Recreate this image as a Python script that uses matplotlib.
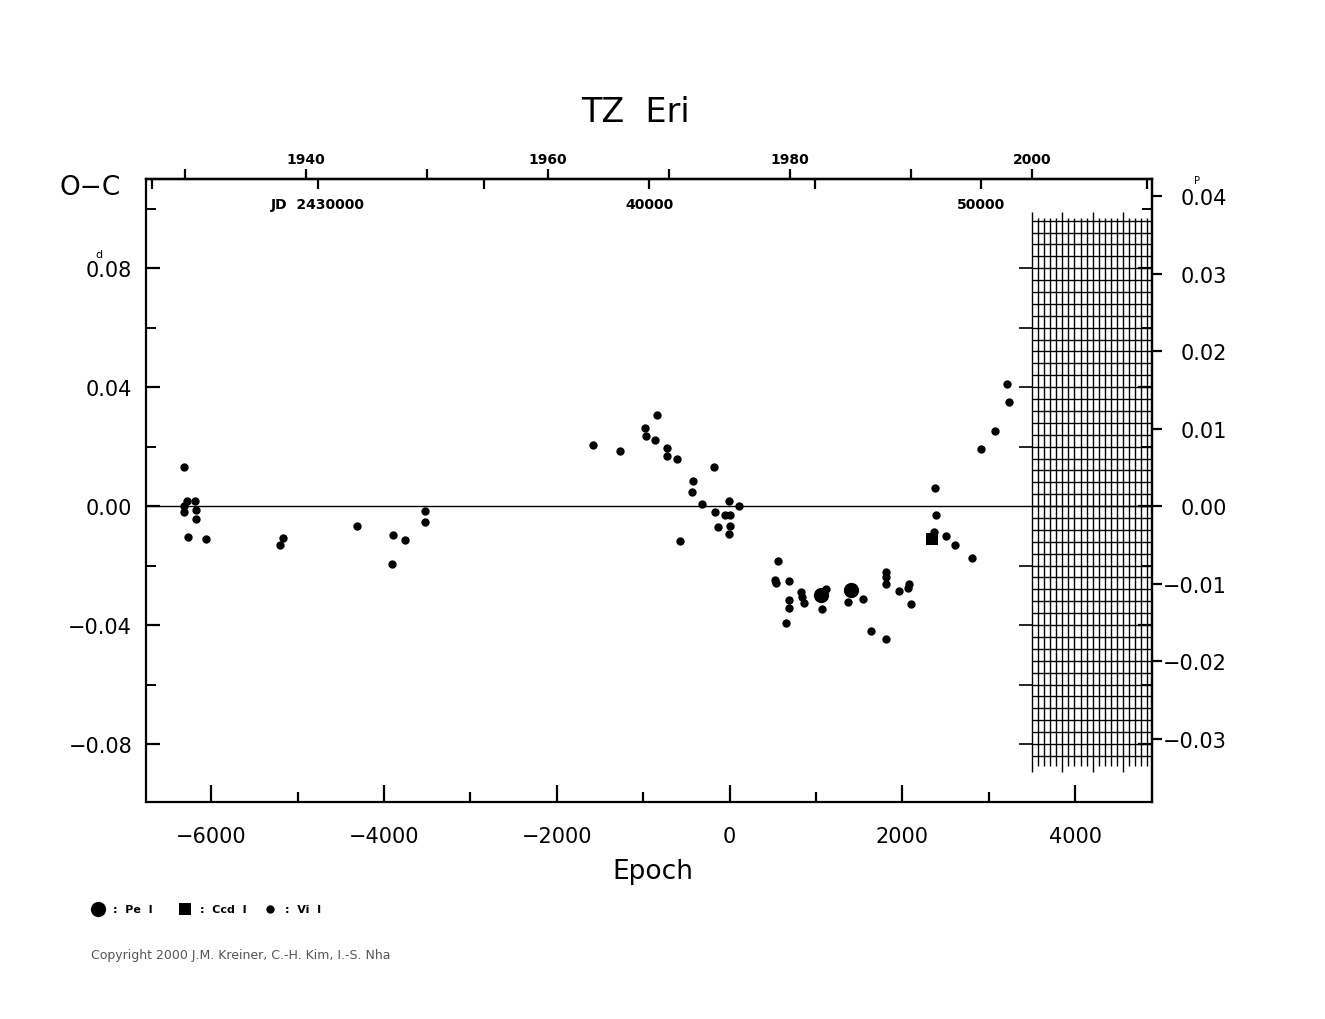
import numpy as np
import matplotlib
matplotlib.use('Agg')
import matplotlib.pyplot as plt
from matplotlib.lines import Line2D
from matplotlib.ticker import FixedLocator, FuncFormatter, NullFormatter

# ---------------- data ----------------
vi_epoch = [-6316, -6276, -6188, -6316, -6316, -6177, -6177, -6265, -6061,
            -5205, -5166, -4314, -3897, -3912, -3758, -3530, -3530,
            -1585, -1270, -837, -984, -973, -865, -725, -725, -610, -181,
            -421, -431, -321, -170, -128, -50, 0, -3, 113, 3, -3, -575,
            564, 524, 536, 687, 687, 687, 652, 825, 833, 856, 1117, 1071,
            1369, 1540, 1635, 1809, 1814, 1814, 1814, 1956, 2068, 2075, 2099,
            2373, 2385, 2365, 2503, 2608, 2801, 2905, 3067, 3206, 3233]
vi_oc = [0.0130, 0.0018, 0.0016, 0.0001, -0.0019, -0.0013, -0.0044, -0.0105, -0.0111,
         -0.0131, -0.0107, -0.0068, -0.0097, -0.0195, -0.0114, -0.0016, -0.0055,
         0.0207, 0.0186, 0.0307, 0.0261, 0.0236, 0.0222, 0.0197, 0.0167, 0.0158, 0.0130,
         0.0085, 0.0048, 0.0007, -0.0019, -0.0070, -0.0030, -0.0029, 0.0017, -0.0001, -0.0066, -0.0094, -0.0117,
         -0.0186, -0.0249, -0.0260, -0.0251, -0.0315, -0.0341, -0.0394, -0.0288, -0.0304, -0.0326, -0.0279, -0.0347,
         -0.0324, -0.0313, -0.0419, -0.0447, -0.0221, -0.0240, -0.0262, -0.0285, -0.0277, -0.0262, -0.0329,
         0.0062, -0.0030, -0.0088, -0.0102, -0.0130, -0.0174, 0.0192, 0.0251, 0.0410, 0.0351]
pe_epoch = [1062, 1406]
pe_oc = [-0.0299, -0.0282]
ccd_epoch = [2338]
ccd_oc = [-0.0109]

period = 2.606
jd0 = 2442418.0

epoch_major = [-6000, -4000, -2000, 0, 2000, 4000]
epoch_minor = [-5000, -3000, -1000, 1000, 3000]
oc_major = [-0.08, -0.04, 0.0, 0.04, 0.08]
oc_minor = [-0.06, -0.02, 0.02, 0.06, 0.10]
phase_ticks = [-0.03, -0.02, -0.01, 0.0, 0.01, 0.02, 0.03, 0.04]
year_ticks = [1930, 1940, 1950, 1960, 1970, 1980, 1990, 2000]
year_labels = [1940, 1960, 1980, 2000]
jd_ticks = [25000, 30000, 35000, 40000, 45000, 50000, 55000]
jd_labels = {30000: 'JD  2430000', 40000: '40000', 50000: '50000'}


def e2jd(e):
    return jd0 - 2400000.0 + np.asarray(e) * period


def jd2e(j):
    return (np.asarray(j) + 2400000.0 - jd0) / period


def e2yr(e):
    return 2000.0 + (e2jd(e) + 2400000.0 - 2451545.0) / 365.25


def yr2e(y):
    return jd2e(2451545.0 - 2400000.0 + (np.asarray(y) - 2000.0) * 365.25)


W, H = 1325, 1020
fig = plt.figure(figsize=(W / 100, H / 100), dpi=100)
ax = fig.add_axes([146 / W, 1 - 803 / H, (1152 - 146) / W, (803 - 180) / H])
ax.set_xlim(-6755, 4890)
ax.set_ylim(-0.0995, 0.110)
for s in ax.spines.values():
    s.set_linewidth(1.6)

# zero line
ax.axhline(0, color='black', lw=1.0, zorder=1)

# future-region grid
g_start, g_end = 2000.0, 2010.0
gx = yr2e(np.arange(g_start, g_end + 0.01, 0.5))
short = [x for i, x in enumerate(gx) if i % 5 != 0]
long_ = [x for i, x in enumerate(gx) if i % 5 == 0]
ax.vlines(short, -0.0875, 0.097, color='black', lw=1.0, zorder=1)
ax.vlines(long_, -0.0895, 0.099, color='black', lw=1.0, zorder=1)
ax.hlines(np.arange(-0.084, 0.0961, 0.004), yr2e(g_start), yr2e(g_end), color='black', lw=1.0, zorder=1)
ax.hlines([-0.08, -0.06, -0.04, -0.02, 0.02, 0.04, 0.06, 0.08], yr2e(1998.9), yr2e(g_start),
          color='black', lw=1.2, zorder=1)

# data
ax.plot(vi_epoch, vi_oc, 'o', color='black', ms=6, mew=0, zorder=3)
ax.plot(pe_epoch, pe_oc, 'o', color='black', ms=11, mew=0, zorder=3)
ax.plot(ccd_epoch, ccd_oc, 's', color='black', ms=8, mew=0, zorder=3)

# bottom / left / right ticks of main axes
ax.xaxis.set_major_locator(FixedLocator(epoch_major))
ax.xaxis.set_minor_locator(FixedLocator(epoch_minor))
ax.xaxis.set_major_formatter(FuncFormatter(lambda v, p: f'{int(v)}'.replace('-', '\u2212')))
ax.yaxis.set_major_locator(FixedLocator(oc_major))
ax.yaxis.set_minor_locator(FixedLocator(oc_minor))
ax.yaxis.set_major_formatter(FuncFormatter(lambda v, p: f'{v:.2f}'.replace('-', '\u2212')))
ax.tick_params(axis='x', which='major', direction='in', length=12, width=1.6, labelsize=15, pad=17,
               top=False)
ax.tick_params(axis='x', which='minor', direction='in', length=7, width=1.6, top=False)
ax.tick_params(axis='y', which='major', direction='in', length=10, width=1.6, labelsize=15, pad=10,
               right=True)
ax.tick_params(axis='y', which='minor', direction='in', length=7, width=1.4, right=True)

# right phase axis
sec = ax.secondary_yaxis('right', functions=(lambda d: d / period, lambda p: p * period))
sec.yaxis.set_major_locator(FixedLocator(phase_ticks))
sec.yaxis.set_major_formatter(FuncFormatter(lambda v, p: f'{v:.2f}'.replace('-', '\u2212')))
sec.tick_params(direction='out', length=7, width=1.6, labelsize=15, pad=47)
sec.spines['right'].set_linewidth(1.6)
for t in sec.get_yticklabels():
    t.set_ha('right')

# top year axis
top = ax.secondary_xaxis('top', functions=(e2yr, yr2e))
top.xaxis.set_major_locator(FixedLocator(year_ticks))
top.xaxis.set_major_formatter(FuncFormatter(lambda v, p: f'{int(round(v))}' if int(round(v)) in year_labels else ''))
top.tick_params(direction='out', length=7, width=1.6, labelsize=10, pad=2)
for t in top.get_xticklabels():
    t.set_fontweight('bold')
top.spines['top'].set_linewidth(1.6)

# top JD axis (ticks inside)
jdax = ax.secondary_xaxis('top', functions=(e2jd, jd2e))
jdax.xaxis.set_major_locator(FixedLocator(jd_ticks))
jdax.xaxis.set_major_formatter(FuncFormatter(lambda v, p: jd_labels.get(int(round(v)), '')))
jdax.tick_params(direction='in', length=7.5, width=1.6, labelsize=10, pad=-23)
for t in jdax.get_xticklabels():
    t.set_fontweight('bold')
jdax.spines['top'].set_linewidth(1.6)

# texts
fig.text(635 / W, 1 - 112 / H, 'TZ  Eri', ha='center', va='center', fontsize=24)
fig.text(90 / W, 1 - 188 / H, 'O\u2212C', ha='center', va='center', fontsize=19)
fig.text(653 / W, 1 - 872 / H, 'Epoch', ha='center', va='center', fontsize=19)
fig.text(99 / W, 1 - 255 / H, 'd', ha='center', va='center', fontsize=8)
fig.text(1197 / W, 1 - 181 / H, 'P', ha='center', va='center', fontsize=7)

# legend
ly = 1 - 910 / H
fig.add_artist(Line2D([98 / W], [ly], transform=fig.transFigure, marker='o', ms=11, color='black', mew=0))
fig.add_artist(Line2D([185 / W], [ly], transform=fig.transFigure, marker='s', ms=8, color='black', mew=0))
fig.add_artist(Line2D([270 / W], [ly], transform=fig.transFigure, marker='o', ms=6, color='black', mew=0))
fig.text(113 / W, ly, ':  Pe  I', ha='left', va='center', fontsize=8, fontweight='bold')
fig.text(200 / W, ly, ':  Ccd  I', ha='left', va='center', fontsize=8, fontweight='bold')
fig.text(285 / W, ly, ':  Vi  I', ha='left', va='center', fontsize=8, fontweight='bold')
fig.text(91 / W, 1 - 956 / H, 'Copyright 2000 J.M. Kreiner, C.-H. Kim, I.-S. Nha', ha='left', va='center',
         fontsize=9, color='#555555')

fig.savefig('out.png', dpi=100)
